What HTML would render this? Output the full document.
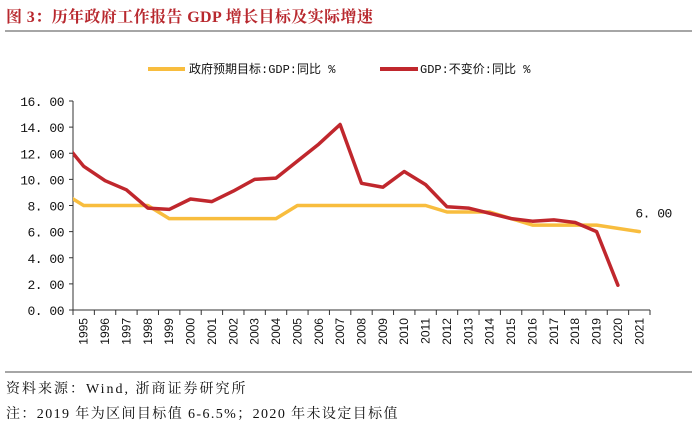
<!DOCTYPE html>
<html><head><meta charset="utf-8"><style>
body{margin:0;background:#fff;width:692px;height:430px;overflow:hidden;font-family:"Liberation Serif","Noto Serif CJK SC",serif}
</style></head><body>
<svg width="692" height="430" xmlns="http://www.w3.org/2000/svg">
<text x="6" y="22" font-size="16" font-weight="bold" fill="#b8282e" letter-spacing="0.4" font-family="Liberation Serif,Noto Serif CJK SC,serif">图 3：历年政府工作报告 GDP 增长目标及实际增速</text>
<line x1="5" y1="31" x2="692" y2="31" stroke="#888" stroke-width="1.5"/>
<g font-family="Liberation Mono,Noto Sans CJK SC,monospace" font-size="12" fill="#111">
<line x1="148" y1="69" x2="185" y2="69" stroke="#f8bd3e" stroke-width="4"/>
<text x="189" y="73">政府预期目标:GDP:同比 %</text>
<line x1="380" y1="69" x2="418" y2="69" stroke="#c0272d" stroke-width="4"/>
<text x="420" y="73">GDP:不变价:同比 %</text>
</g>
<defs><clipPath id="plotclip"><rect x="73" y="80" width="600" height="240"/></clipPath></defs>
<g id="axes"></g>
<g id="series" clip-path="url(#plotclip)"></g>
<g id="labels"></g>
<line x1="5" y1="372" x2="692" y2="372" stroke="#888" stroke-width="1.5"/>
<text x="6" y="393" font-size="14" fill="#111" letter-spacing="2">资料来源：Wind, 浙商证券研究所</text>
<text x="6" y="418" font-size="14" fill="#111" letter-spacing="1.4">注：2019 年为区间目标值 6-6.5%；2020 年未设定目标值</text>
</svg>
<script>
const years = ["1994","1995","1996","1997","1998","1999","2000","2001","2002","2003","2004","2005","2006","2007","2008","2009","2010","2011","2012","2013","2014","2015","2016","2017","2018","2019","2020","2021"];
const targetValues = [9,8,8,8,8,7,7,7,7,7,7,8,8,8,8,8,8,8,7.5,7.5,7.5,7,6.5,6.5,6.5,6.5,null,6];
const gdpValues = [13.0,11.0,9.9,9.2,7.8,7.7,8.5,8.3,9.1,10.0,10.1,11.4,12.7,14.2,9.7,9.4,10.6,9.6,7.9,7.8,7.4,7.0,6.8,6.9,6.7,6.0,1.9,null];
const yTicks = [0,2,4,6,8,10,12,14,16];
const shownFrom = 1; // 1994 only drawn for clipped line start
const NS="http://www.w3.org/2000/svg";
const X0=73,X1=650,Y0=310,Y1=101,YMAX=16;
const nShown=years.length-shownFrom, bw=(X1-X0)/nShown;
function xs(i){return X0+(i-shownFrom+0.5)*bw;}
function ys(v){return Y0-(v/YMAX)*(Y0-Y1);}
function mk(tag,attrs,parent){const e=document.createElementNS(NS,tag);for(const k in attrs)e.setAttribute(k,attrs[k]);parent.appendChild(e);return e;}
const ax=document.getElementById('axes'), lb=document.getElementById('labels'), se=document.getElementById('series');
let e=mk('line',{x1:X0,y1:Y1,x2:X0,y2:Y0,stroke:'#333','stroke-width':1},ax);


e=mk('line',{x1:X0,y1:Y0,x2:X1,y2:Y0,stroke:'#333','stroke-width':1},ax);


yTicks.forEach(t=>{
  const y=ys(t);
  let tk=mk('line',{x1:X0-4,y1:y,x2:X0,y2:y,stroke:'#333'},ax);
  
  
  let tx=mk('text',{x:X0-9,y:y+5,'text-anchor':'end','font-size':'13','font-family':'Liberation Mono,monospace',fill:'#111','letter-spacing':'-0.5'},lb);
  tx.textContent=t.toFixed(2).replace('.','. ');
  
  
});
for(let i=shownFrom;i<=years.length;i++){
  const x=X0+(i-shownFrom)*bw;
  let tk=mk('line',{x1:x,y1:Y0,x2:x,y2:Y0+5,stroke:'#333'},ax);
  
  
}
for(let i=shownFrom;i<years.length;i++){
  const x=xs(i)+4;
  let tx=mk('text',{x:x,y:Y0+8,'text-anchor':'end','font-size':'12','font-family':'Liberation Sans,sans-serif',fill:'#111',transform:`rotate(-90 ${x} ${Y0+8})`},lb);
  tx.textContent=years[i];
  
  
}
function pathFor(vals){
  let d='';vals.forEach((v,i)=>{if(v==null)return;d+=(d?'L':'M')+xs(i).toFixed(1)+','+ys(v).toFixed(1);});return d;
}
let p=mk('path',{d:pathFor(targetValues),fill:'none',stroke:'#f8bd3e','stroke-width':3.5,'stroke-linejoin':'round','stroke-linecap':'round'},se);


p=mk('path',{d:pathFor(gdpValues),fill:'none',stroke:'#c0272d','stroke-width':3.5,'stroke-linejoin':'round','stroke-linecap':'round'},se);


const li=targetValues.length-1;
let lt=mk('text',{x:xs(li)-4,y:ys(targetValues[li])-14,'font-size':'13','font-family':'Liberation Mono,monospace',fill:'#111','letter-spacing':'-0.5'},lb);
lt.textContent=targetValues[li].toFixed(2).replace('.','. ');


</script>
</body></html>
